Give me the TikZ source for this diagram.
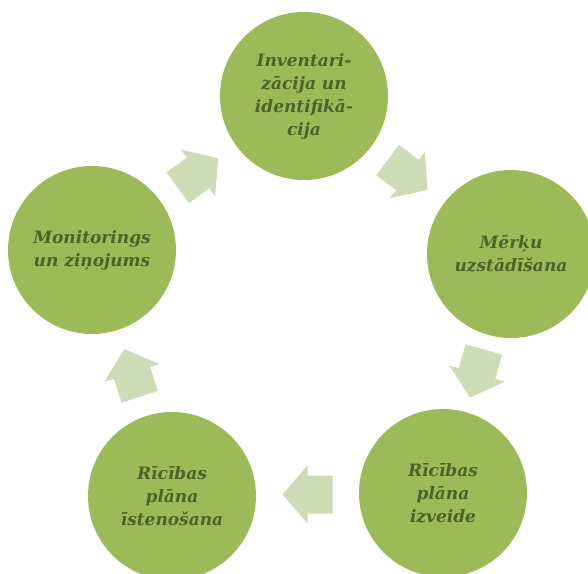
\documentclass[tikz,border=0pt]{standalone}
\usepackage{fontspec}
\setmainfont{DejaVu Serif}
\usepackage{tikz}
\usetikzlibrary{calc}
\definecolor{CycleGreen}{HTML}{9BBB59}
\definecolor{CycleArrow}{HTML}{CDDCB5}
\definecolor{CycleText}{HTML}{4F6228}

\begin{document}
\begin{tikzpicture}[x=1pt, y=1pt,
        stage/.style={circle, fill=CycleGreen, minimum size=168pt, inner sep=0pt, align=center,
            text=CycleText, font=\fontsize{17}{23}\selectfont\bfseries\itshape},
        flow/.style={fill=CycleArrow}]
        \useasboundingbox (0,0) rectangle (588,573);

        \node[stage] (inv) at (304,477) {Inventari-\\zācija un\\identifikā-\\cija};
        \node[stage] (merk) at (511,319) {Mērķu\\uzstādīšana};
        \node[stage] (izv) at (443,80) {Rīcības\\plāna\\izveide};
        \node[stage] (ist) at (172,77) {Rīcības\\plāna\\īstenošana};
        \node[stage] (mon) at (92,323) {Monitorings\\un ziņojums};

        \foreach \a/\b/\r in {inv/merk/-37, merk/izv/-106, izv/ist/180, ist/mon/108, mon/inv/36}
            \fill[flow, shift={($(\a)!0.5!(\b)$)}, rotate=\r]
                (-25,-19) -- (0,-19) -- (0,-29) -- (25,0) -- (0,29) -- (0,19) -- (-25,19) -- cycle;
    \end{tikzpicture}
\end{document}
